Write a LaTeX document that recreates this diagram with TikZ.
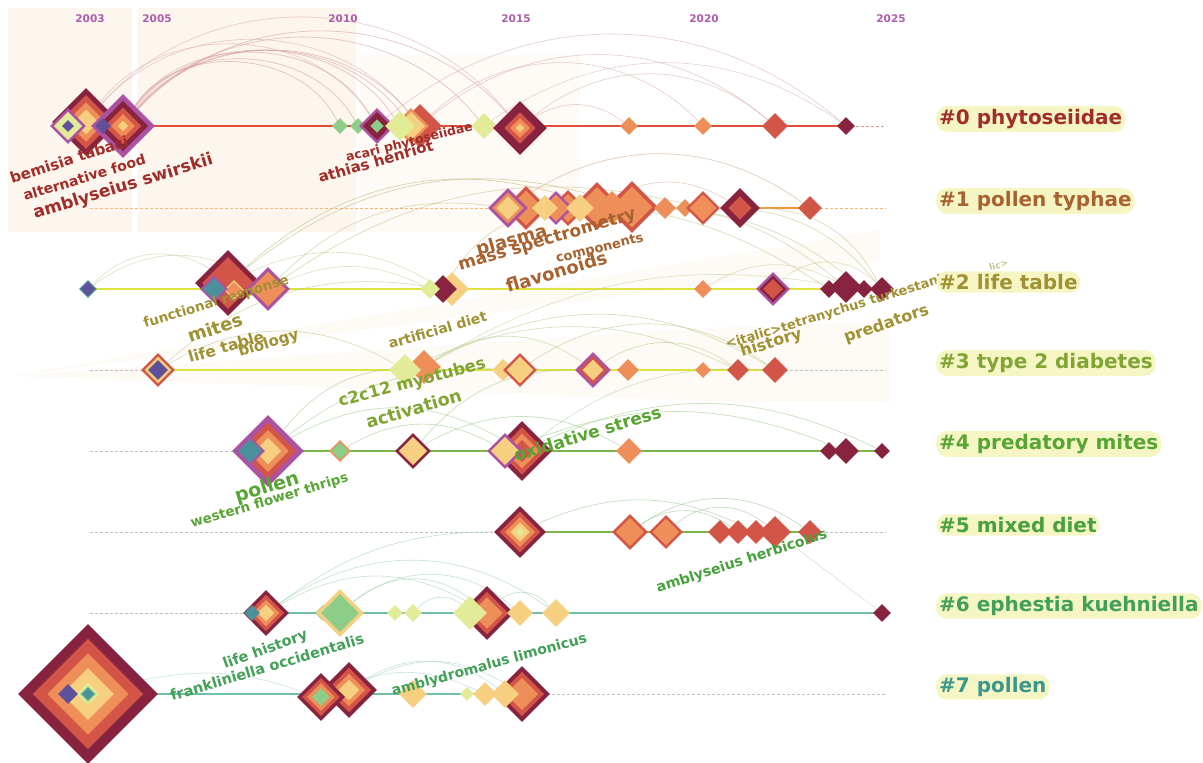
\documentclass[tikz,border=0pt]{standalone}
\usepackage{fontspec}
\setmainfont{DejaVu Sans}
\usetikzlibrary{shapes.geometric}
\definecolor{mar}{RGB}{135,35,62}
\definecolor{rd}{RGB}{210,85,72}
\definecolor{orn}{RGB}{238,142,88}
\definecolor{ylw}{RGB}{246,208,128}
\definecolor{pale}{RGB}{226,236,152}
\definecolor{grn}{RGB}{140,205,135}
\definecolor{tea}{RGB}{75,145,155}
\definecolor{pblu}{RGB}{95,80,155}
\definecolor{pur}{RGB}{172,82,162}
\definecolor{c0}{RGB}{160,45,42}
\definecolor{c1}{RGB}{168,98,48}
\definecolor{c2}{RGB}{160,145,52}
\definecolor{c3}{RGB}{128,165,52}
\definecolor{c4}{RGB}{88,165,52}
\definecolor{c5}{RGB}{72,160,62}
\definecolor{c6}{RGB}{66,160,88}
\definecolor{c7}{RGB}{60,150,140}
\definecolor{l0}{RGB}{226,78,58}
\definecolor{l1}{RGB}{240,150,62}
\definecolor{l2}{RGB}{222,226,62}
\definecolor{l4}{RGB}{122,182,72}
\definecolor{l6}{RGB}{112,192,168}
\definecolor{yr}{RGB}{172,92,172}
\definecolor{labbg}{RGB}{246,246,196}
\definecolor{bgA}{RGB}{253,246,238}
\definecolor{bgB}{RGB}{254,250,245}
\pgfdeclarelayer{back}
\pgfdeclarelayer{arcs}
\pgfsetlayers{back,arcs,main}
\newcommand\dm[5]{%
  \foreach \cc [count=\ii] in {#5} {
    \pgfmathsetmacro\sz{2*#4*(1-(\ii-1)*0.21)}
    \node[diamond, draw=none, fill=\cc, inner sep=0pt, minimum size=\sz pt] at (#2,#3) {};
  }
  \node[diamond, inner sep=0pt, minimum size=#4*2pt] (#1) at (#2,#3) {};
}
\tikzset{
  kw/.style={font=\bfseries\fontsize{#1}{#1}\selectfont, inner sep=0pt, anchor=base west},
  yrlab/.style={font=\bfseries\fontsize{10.5}{10.5}\selectfont, text=yr},
  clab/.style={font=\bfseries\fontsize{20}{20}\selectfont, fill=labbg, rounded corners=11pt, inner xsep=3pt, inner ysep=3pt, anchor=west},
  tl/.style={line width=2.2pt},
  dsh/.style={dashed, line width=0.5pt, dash pattern=on 3pt off 2pt},
  arc/.style={line width=0.7pt, opacity=0.55},
}
\begin{document}
\begin{tikzpicture}[x=1pt,y=-1pt]
\useasboundingbox (0,0) rectangle (1203,763);
\begin{pgfonlayer}{back}
\fill[white] (0,0) rectangle (1203,763);
\fill[bgA] (8,8) rectangle (132,232);
\fill[bgA] (138,8) rectangle (356,232);
\fill[bgB] (360,55) rectangle (580,232);
\fill[bgB] (10,376) -- (880,230) -- (880,262) -- cycle;
\fill[bgB] (10,376) -- (700,328) -- (890,322) -- (890,402) -- (740,402) -- cycle;
\end{pgfonlayer}
% year labels
\node[yrlab] (y03) at (90,19) {2003};
\node[yrlab] (y05) at (157,19) {2005};
\node[yrlab] (y10) at (343,19) {2010};
\node[yrlab] (y15) at (516,19) {2015};
\node[yrlab] (y20) at (704,19) {2020};
\node[yrlab] (y25) at (891,19) {2025};
% end coordinates
\foreach \r/\yy in {0/126,1/208,2/289,3/370,4/451,5/532,6/613,7/694} {
  \coordinate (s\r) at (90,\yy);
  \coordinate (e\r) at (886,\yy);
}
% ---------- row 0
\dm{n0a}{86}{122}{34}{mar,rd,orn,ylw}
\dm{n0a2}{68}{126}{18}{pur,pale}
\dm{n0a1}{68}{126}{6}{pblu}
\dm{n0b}{123}{126}{32}{pur,mar,rd,orn,ylw}
\dm{n0b1}{103}{126}{8}{pblu}
\dm{n0c}{340}{126}{8}{grn}
\dm{n0d}{358}{126}{8}{grn}
\dm{n0e}{377}{126}{18}{pur,mar,mar,grn}
\dm{n0h}{420}{126}{22}{rd}
\dm{n0g}{411}{126}{18}{orn,ylw}
\dm{n0f}{400}{126}{15}{pale}
\dm{n0i}{484}{126}{13}{pale}
\dm{n0j}{520}{128}{27}{mar,mar,rd,orn,ylw}
\dm{n0k}{629}{126}{9}{orn}
\dm{n0l}{703}{126}{9}{orn}
\dm{n0m}{775}{126}{13}{rd}
\dm{n0n}{846}{126}{9}{mar}
% ---------- row 1
\dm{n1b}{526}{208}{22}{rd,orn}
\dm{n1a}{508}{208}{20}{pur,orn,ylw}
\dm{n1e}{568}{208}{18}{rd,orn}
\dm{n1d}{556}{208}{17}{pur,orn}
\dm{n1c}{545}{208}{13}{ylw}
\dm{n1g}{597}{206}{24}{rd,orn}
\dm{n1f}{580}{208}{14}{ylw}
\dm{n1i}{632}{207}{26}{rd,orn}
\dm{n1h}{612}{208}{17}{orn}
\dm{n1j}{665}{208}{11}{orn}
\dm{n1k}{685}{208}{9}{orn}
\dm{n1l}{703}{208}{17}{rd,orn}
\dm{n1m}{740}{208}{20}{mar,mar,rd}
\dm{n1n}{810}{208}{12}{rd}
% ---------- row 2
\dm{n2a}{88}{289}{9}{tea,pblu}
\dm{n2b}{228}{283}{33}{mar,rd,rd}
\dm{n2b2}{234}{290}{10}{ylw,orn}
\dm{n2b1}{214}{289}{14}{pur,tea}
\dm{n2c}{268}{289}{22}{pur,orn}
\dm{n2e}{452}{289}{17}{ylw}
\dm{n2f}{443}{289}{14}{mar}
\dm{n2d}{430}{289}{10}{pale}
\dm{n2g}{703}{289}{9}{orn}
\dm{n2h}{773}{289}{17}{pur,mar,rd}
\dm{n2i}{829}{289}{9}{mar}
\dm{n2j}{846}{287}{16}{mar}
\dm{n2k}{864}{289}{9}{mar}
\dm{n2l}{882}{289}{12}{mar}
% ---------- row 3
\dm{n3a}{158}{370}{17}{rd,ylw,pblu}
\dm{n3c}{424}{367}{17}{orn}
\dm{n3b}{405}{370}{16}{pale}
\dm{n3d}{503}{370}{11}{ylw}
\dm{n3e}{520}{370}{17}{rd,ylw}
\dm{n3f}{593}{370}{18}{pur,rd,ylw}
\dm{n3g}{628}{370}{11}{orn}
\dm{n3h}{703}{370}{8}{orn}
\dm{n3i}{738}{370}{11}{rd}
\dm{n3j}{775}{370}{13}{rd}
% ---------- row 4
\dm{n4a}{268}{451}{36}{pur,rd,orn,ylw}
\dm{n4a1}{250}{451}{15}{pur,tea}
\dm{n4b}{340}{451}{11}{orn,grn}
\dm{n4c}{413}{451}{18}{mar,ylw}
\dm{n4d}{522}{451}{30}{mar,rd,orn,rd}
\dm{n4e}{505}{451}{18}{pur,ylw}
\dm{n4f}{629}{451}{13}{orn}
\dm{n4g}{829}{451}{9}{mar}
\dm{n4h}{846}{451}{13}{mar}
\dm{n4i}{882}{451}{8}{mar}
% ---------- row 5
\dm{n5a}{520}{532}{26}{mar,rd,orn,ylw,pale}
\dm{n5b}{630}{532}{18}{rd,orn}
\dm{n5c}{666}{532}{17}{rd,orn}
\dm{n5d}{720}{532}{12}{rd}
\dm{n5e}{738}{532}{12}{rd}
\dm{n5f}{756}{532}{12}{rd}
\dm{n5g}{775}{532}{16}{rd}
\dm{n5h}{810}{532}{12}{rd}
% ---------- row 6
\dm{n6a}{266}{613}{23}{mar,rd,orn,ylw}
\dm{n6a1}{252}{613}{8}{tea}
\dm{n6b}{323}{613}{8}{grn}
\dm{n6c}{340}{613}{24}{ylw,grn}
\dm{n6d}{395}{613}{8}{pale}
\dm{n6e}{413}{613}{9}{pale}
\dm{n6f}{487}{613}{27}{mar,rd,orn}
\dm{n6g}{470}{613}{17}{pale}
\dm{n6h}{520}{613}{13}{ylw}
\dm{n6i}{556}{613}{14}{ylw}
\dm{n6j}{882}{613}{9}{mar}
% ---------- row 7
\dm{n7a}{88}{694}{70}{mar,rd,orn,ylw,pale}
\dm{n7a1}{68}{694}{10}{pblu}
\dm{n7a2}{88}{694}{8}{grn,tea}
\dm{n7c}{349}{690}{28}{mar,rd,orn,ylw}
\dm{n7b}{321}{697}{24}{mar,rd,orn,grn}
\dm{n7d}{413}{694}{14}{ylw}
\dm{n7e}{467}{694}{7}{pale}
\dm{n7f}{485}{694}{12}{ylw}
\dm{n7g}{522}{694}{28}{mar,rd,orn}
\dm{n7h}{505}{694}{14}{ylw}
% ---------- timelines and arcs
\begin{pgfonlayer}{arcs}
\draw[tl,l0] (n0b.center) -- (n0n.center);
\draw[dsh,l0!60] (n0n.center) -- (e0);
\draw[dsh,l1!70] (s1) -- (e1);
\draw[tl,l1] (n1m.center) -- (n1n.center);
\draw[tl,l2] (n2a.center) -- (n2l.center);
\draw[dsh,gray!50] (s3) -- (n3a.center);
\draw[tl,l2] (n3a.center) -- (n3j.center);
\draw[dsh,gray!50] (n3j.center) -- (e3);
\draw[dsh,gray!50] (s4) -- (n4a.center);
\draw[tl,l4] (n4a.center) -- (n4i.center);
\draw[dsh,gray!50] (s5) -- (n5a.center);
\draw[tl,l4] (n5a.center) -- (n5h.center);
\draw[dsh,gray!50] (n5h.center) -- (e5);
\draw[dsh,gray!50] (s6) -- (n6a.center);
\draw[tl,l6] (n6a.center) -- (n6j.center);
\draw[tl,l6] (n7a.center) -- (n7g.center);
\draw[dsh,gray!50] (n7g.center) -- (e7);
% row 0 arcs
\foreach \t/\b in {n0c/60,n0d/58,n0e/58,n0f/55,n0g/52,n0h/50,n0i/50,n0j/48}
  \draw[arc,c0!50] (n0b) to[bend left=\b] (\t);
\foreach \t/\b in {n0e/55,n0h/50,n0j/50}
  \draw[arc,c0!40] (n0a) to[bend left=\b] (\t);
\draw[arc,c0!40] (n0h) to[bend left=45] (n0l);
\draw[arc,c0!40] (n0h) to[bend left=40] (n0m);
\draw[arc,c0!40] (n0e) to[bend left=40] (n0n);
\draw[arc,c0!40] (n0j) to[bend left=35] (n0k);
\draw[arc,c0!40] (n0j) to[bend left=40] (n0m);
\draw[arc,c0!35] (n0i) to[bend left=35] (n0n);
% row 1/2 arcs
\draw[arc,c1!60] (n1a) to[bend left=35] (n1n);
\draw[arc,c1!50] (n1g) to[bend left=30] (n1m);
\draw[arc,c2!70] (n2b) to[bend left=30] (n1g);
\draw[arc,c2!70] (n2b) to[bend left=28] (n1i);
\draw[arc,c2!60] (n2c) to[bend left=26] (n1a);
\draw[arc,c2!60] (n2c) to[bend left=24] (n1l);
\draw[arc,c2!60] (n2f) to[bend left=25] (n1e);
\draw[arc,c2!60] (n1a) to[bend left=18] (n2i);
\draw[arc,c2!60] (n1g) to[bend left=20] (n2j);
\draw[arc,c2!60] (n1i) to[bend left=18] (n2k);
\draw[arc,c2!60] (n1l) to[bend left=25] (n2l);
\draw[arc,c2!60] (n1m) to[bend left=30] (n2l);
\draw[arc,c2!50] (n2a) to[bend left=40] (n2b);
\draw[arc,c2!50] (n2a) to[bend left=35] (n2c);
\draw[arc,c2!50] (n2b) to[bend left=28] (n2f);
\draw[arc,c2!50] (n2c) to[bend left=25] (n2d);
\draw[arc,c2!50] (n2h) to[bend left=45] (n2l);
\draw[arc,c2!50] (n2g) to[bend left=30] (n2j);
% row 3/4 arcs
\draw[arc,c3!60] (n3a) to[bend left=30] (n3b);
\draw[arc,c3!60] (n3a) to[bend left=25] (n2f);
\draw[arc,c3!60] (n3c) to[bend left=35] (n3f);
\draw[arc,c3!60] (n3c) to[bend left=30] (n3j);
\draw[arc,c3!60] (n3b) to[bend left=25] (n3i);
\draw[arc,c3!60] (n3e) to[bend left=35] (n3j);
\draw[arc,c3!60] (n3f) to[bend left=35] (n3i);
\draw[arc,c3!50] (n3c) to[bend left=20] (n2j);
\draw[arc,c4!60] (n4a) to[bend left=25] (n3c);
\draw[arc,c4!60] (n4a) to[bend left=30] (n4d);
\draw[arc,c4!60] (n4a) to[bend left=20] (n3e);
\draw[arc,c4!60] (n4b) to[bend left=30] (n4e);
\draw[arc,c4!60] (n4c) to[bend left=25] (n3f);
\draw[arc,c4!60] (n4c) to[bend left=30] (n4f);
\draw[arc,c4!60] (n4d) to[bend left=25] (n4i);
\draw[arc,c4!60] (n4e) to[bend left=22] (n4h);
\draw[arc,c4!50] (n4d) to[bend left=20] (n3j);
% row 5/6/7 arcs
\draw[arc,c5!60] (n5a) to[bend left=25] (n5f);
\draw[arc,c5!60] (n5b) to[bend left=35] (n5h);
\draw[arc,c5!60] (n5c) to[bend left=40] (n5g);
\draw[arc,c5!60] (n5b) to[bend left=35] (n5e);
\draw[arc,c5!40] (n5g) -- (n6j);
\draw[arc,c6!50] (n6a) to[bend left=18] (n5a);
\draw[arc,c6!50] (n6a) to[bend left=30] (n6f);
\draw[arc,c6!50] (n6a) to[bend left=35] (n6i);
\draw[arc,c6!50] (n6c) to[bend left=40] (n6h);
\draw[arc,c6!50] (n6c) to[bend left=40] (n6f);
\draw[arc,c6!50] (n6e) to[bend left=45] (n6g);
\draw[arc,c6!50] (n6f) to[bend left=45] (n6i);
\draw[arc,c7!45] (n7a) to[bend left=15] (n7b);
\draw[arc,c7!45] (n7c) to[bend left=30] (n7g);
\draw[arc,c7!45] (n7b) to[bend left=25] (n7f);
\draw[arc,c7!45] (n7c) to[bend left=35] (n7h);
\end{pgfonlayer}
% ---------- keyword labels (anchor = start of baseline)
\node[kw=15,text=c0,rotate=18] (k1) at (12,184) {bemisia tabaci};
\node[kw=14,text=c0,rotate=17] (k2) at (25,201) {alternative food};
\node[kw=17,text=c0,rotate=17] (k3) at (35,219) {amblyseius swirskii};
\node[kw=12.5,text=c0,rotate=14] (k4) at (347,162) {acari phytoseiidae};
\node[kw=15,text=c0,rotate=16] (k5) at (320,183) {athias henriot};
\node[kw=18,text=c1,rotate=16] (k6) at (478,256) {plasma};
\node[kw=17,text=c1,rotate=16.5] (k7) at (460,271) {mass spectrometry};
\node[kw=13,text=c1,rotate=14] (k8) at (557,263) {components};
\node[kw=18,text=c1,rotate=16.5] (k9) at (508,293) {flavonoids};
\node[kw=13.5,text=c2,rotate=17] (k10) at (145,328) {functional response};
\node[kw=18,text=c2,rotate=18] (k11) at (190,343) {mites};
\node[kw=15.5,text=c2,rotate=16] (k12) at (190,363) {life table};
\node[kw=15,text=c2,rotate=17] (k13) at (240,357) {biology};
\node[kw=14,text=c2,rotate=16] (k14) at (390,349) {artificial diet};
\node[kw=13,text=c2,rotate=17] (k15) at (727,349) {<italic>tetranychus turkestani};
\node[kw=9,text=c2!55,rotate=15] (k16) at (990,271) {lic>};
\node[kw=16,text=c2,rotate=17] (k17) at (742,357) {history};
\node[kw=16,text=c2,rotate=19] (k18) at (846,343) {predators};
\node[kw=16.5,text=c3,rotate=15] (k19) at (340,407) {c2c12 myotubes};
\node[kw=17.5,text=c3,rotate=16.5] (k20) at (368,429) {activation};
\node[kw=17,text=c4,rotate=17] (k21) at (516,462) {oxidative stress};
\node[kw=19,text=c4,rotate=17.5] (k22) at (237,503) {pollen};
\node[kw=13.5,text=c4,rotate=16.5] (k23) at (192,528) {western flower thrips};
\node[kw=14.2,text=c5,rotate=18] (k24) at (658,593) {amblyseius herbicolus};
\node[kw=14.5,text=c6,rotate=20] (k25) at (225,669) {life history};
\node[kw=14.5,text=c6,rotate=16.6] (k26) at (172,701) {frankliniella occidentalis};
\node[kw=14,text=c6,rotate=15.4] (k27) at (393,696) {amblydromalus limonicus};
% ---------- cluster labels
\node[clab,text=c0] (cl0) at (936,119) {\#0 phytoseiidae};
\node[clab,text=c1] (cl1) at (936,201) {\#1 pollen typhae};
\node[clab,text=c2] (cl2) at (936,282) {\#2 life table};
\node[clab,text=c3] (cl3) at (936,363) {\#3 type 2 diabetes};
\node[clab,text=c4] (cl4) at (936,444) {\#4 predatory mites};
\node[clab,text=c5] (cl5) at (936,525) {\#5 mixed diet};
\node[clab,text=c6] (cl6) at (936,606) {\#6 ephestia kuehniella};
\node[clab,text=c7] (cl7) at (936,687) {\#7 pollen};
\end{tikzpicture}
\end{document}
